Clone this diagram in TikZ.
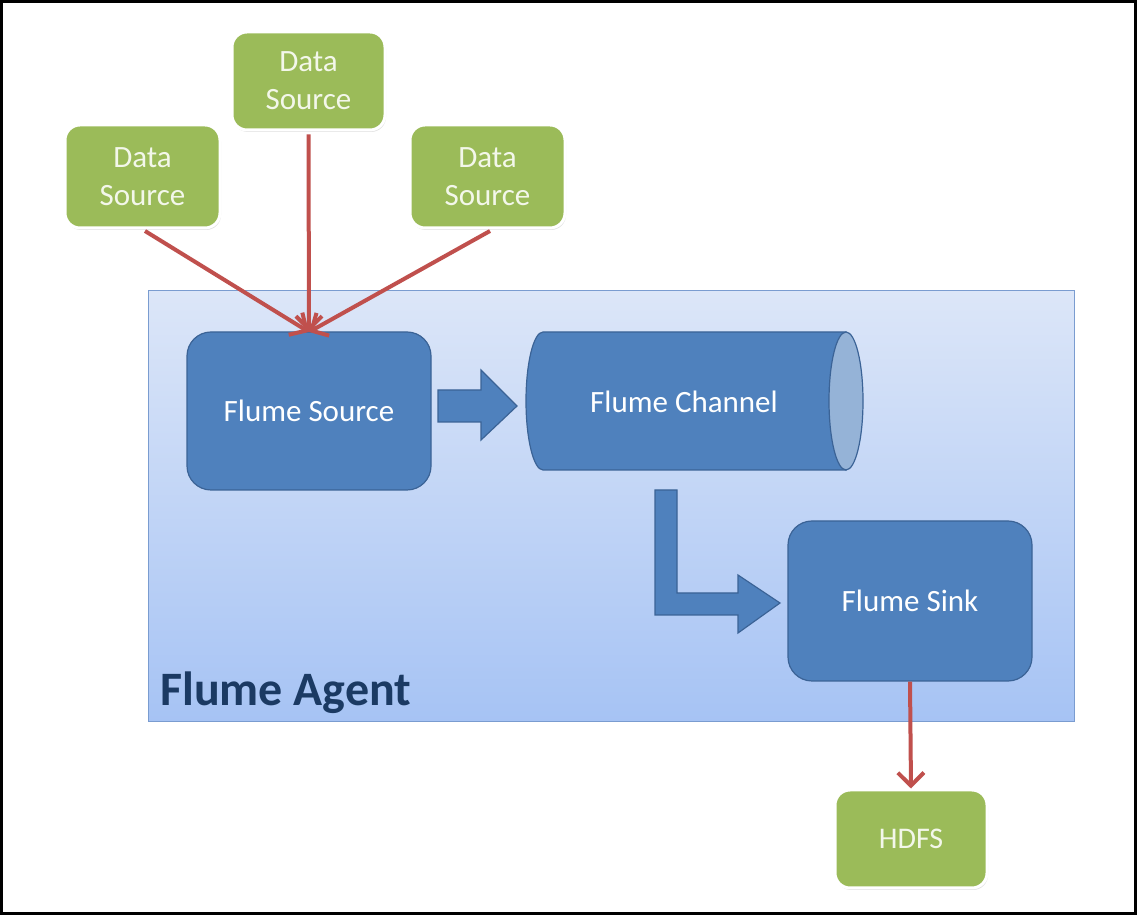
\documentclass[tikz,border=0pt]{standalone}
\usepackage{fontspec}
\setmainfont{Carlito}
\usetikzlibrary{arrows.meta,shadows}
\definecolor{dsgreen}{HTML}{9BBB59}
\definecolor{fblue}{HTML}{4F81BD}
\definecolor{fborder}{HTML}{3B6396}
\definecolor{fred}{HTML}{C0504D}
\definecolor{agtop}{HTML}{DCE6F8}
\definecolor{agbot}{HTML}{A6C3F4}
\definecolor{agborder}{HTML}{7A9CD0}
\definecolor{cylend}{HTML}{95B3D7}
\definecolor{agtext}{HTML}{1B3A63}
\definecolor{gtext}{HTML}{F3F7EA}
\tikzset{
  x=1pt,y=1pt,
  greenbox/.style={draw=white,line width=3pt,fill=dsgreen,rounded corners=15pt,
    text=gtext,font=\fontsize{31}{38}\selectfont,align=center,inner sep=0pt,
    drop shadow={shadow xshift=1pt,shadow yshift=-2pt,opacity=0.25}},
  bluebox/.style={draw=fborder,line width=1.2pt,fill=fblue,rounded corners=24pt,
    text=white,font=\fontsize{31}{37}\selectfont,inner sep=0pt},
  redarrow/.style={draw=fred,line width=4pt,-{Straight Barb[length=13pt,width=26pt,line width=4pt]}},
  blockarrow/.style={draw=fborder,line width=1.2pt,fill=fblue,line join=miter},
}
\begin{document}
\begin{tikzpicture}
\useasboundingbox (0,0) rectangle (1137,915);
\fill[white] (0,0) rectangle (1137,915);
\draw[black,line width=3pt] (1.5,1.5) rectangle (1135.5,913.5);
% agent
\shade[top color=agtop,bottom color=agbot] (148,193) rectangle (1074,624);
\draw[agborder,line width=1pt] (148,193) rectangle (1074,624);
\node[anchor=base west,text=agtext,font=\fontsize{48}{56}\selectfont\bfseries,inner sep=0pt] (agent) at (160,209) {Flume Agent};
% green boxes
\node[greenbox,minimum width=155pt,minimum height=103pt] (ds1) at (142.5,738.5) {Data\\Source};
\node[greenbox,minimum width=153pt,minimum height=98pt] (ds2) at (308.5,834) {Data\\Source};
\node[greenbox,minimum width=155pt,minimum height=103pt] (ds3) at (487.5,738.5) {Data\\Source};
\node[greenbox,minimum width=152pt,minimum height=98pt,font=\fontsize{30}{36}\selectfont] (hdfs) at (911,76) {HDFS};
% blue boxes
\node[bluebox,minimum width=244pt,minimum height=158pt] (src) at (309,504) {Flume Source};
\node[bluebox,minimum width=244pt,minimum height=160pt] (sink) at (910,314) {Flume Sink};
% cylinder
\draw[fborder,line width=1.2pt,fill=fblue] (846,583) -- (543,583) arc[start angle=90,end angle=270,x radius=17,y radius=69] -- (846,445) -- cycle;
\draw[fborder,line width=1.2pt,fill=cylend] (846,514) ellipse[x radius=17,y radius=69];
\node[text=white,font=\fontsize{31}{37}\selectfont,inner sep=0pt] (chan) at (684,513) {Flume Channel};
% block arrow source -> channel
\draw[blockarrow] (438,525) -- (481,525) -- (481,545) -- (517,509) -- (481,475) -- (481,493) -- (438,493) -- cycle;
% bent arrow channel -> sink
\draw[blockarrow] (655,425) -- (677,425) -- (677,322) -- (738,322) -- (738,340) -- (780,312) -- (738,282) -- (738,300) -- (655,300) -- cycle;
% red arrows
\coordinate (srcTop) at (309,583);
\draw[redarrow] (145,684) -- (srcTop);
\draw[redarrow] (ds2.south) ++(0,-3) -- (srcTop);
\draw[redarrow] (490,684) -- (srcTop);
\draw[redarrow] (sink.south) -- (hdfs.north);
\end{tikzpicture}
\end{document}
